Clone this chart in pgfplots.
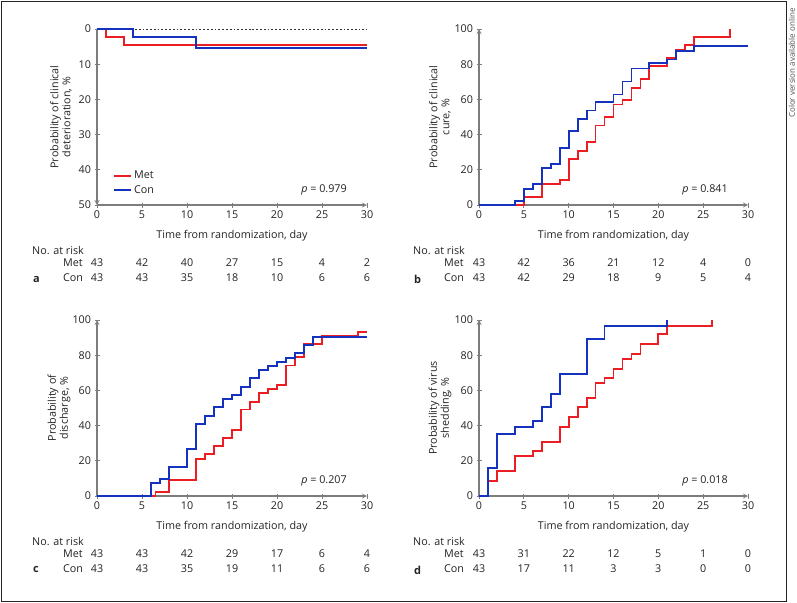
\documentclass[border=0pt]{standalone}
\usepackage{fontspec}
\setmainfont{Open Sans}
\usepackage{pgfplots}
\pgfplotsset{compat=1.18}
\definecolor{kmred}{RGB}{235,30,36}
\definecolor{kmblue}{RGB}{20,50,190}
\definecolor{axgray}{RGB}{125,125,125}
\definecolor{txt}{RGB}{35,35,35}
\pgfplotsset{km/.style={
  scale only axis, width=270bp, height=176bp,
  xmin=0, xmax=30, xtick={0,5,...,30},
  axis line style={-, draw=axgray, line width=1.2bp},
  tick style={draw=axgray, line width=1bp}, tick align=outside, major tick length=5bp,
  tick label style={font=\fontsize{10.8}{12}\selectfont, text=txt},
  /pgf/number format/assume math mode=true,
  clip=false,
  every axis plot/.append style={line width=1.8bp, const plot},
}}
\tikzset{num/.style={font=\fontsize{10.8}{12}\selectfont, text=txt, inner sep=0pt}}
\newcommand\risk[6]{% X0, Ybot, offset, step, met, con
  \foreach \v [count=\i from 0] in {#5} \node[num] at ({#1+#4*\i},{#2+58}) {\v};
  \foreach \v [count=\i from 0] in {#6} \node[num] at ({#1+#4*\i},{#2+73}) {\v};
  \node[num, anchor=west] at ({32+#3},{#2+45}) {No. at risk};
  \node[num, anchor=west] at ({63+#3},{#2+58}) {Met};
  \node[num, anchor=west] at ({63+#3},{#2+73}) {Con};
  \node[num] at ({#1+#4*15/5},{#2+31}) {Time from randomization, day};
}
\begin{document}
\begin{tikzpicture}
\useasboundingbox (0,0) rectangle (797bp,-603bp);
\draw[txt, line width=1bp] (1bp,-1bp) rectangle (786bp,-601bp);
\node[rotate=90, anchor=east, font=\fontsize{8}{9}\selectfont, text=txt!80] at (792bp,-5bp) {Color version available online};

% Panel a
\begin{axis}[km, at={(97bp,-205bp)}, anchor=south west,
  ymin=0, ymax=50, ytick={0,10,...,50}, y dir=reverse,
  axis lines=left,
  legend style={draw=none, fill=none, at={(0.06,0.205)}, anchor=north west,
    font=\fontsize{10.8}{12}\selectfont, text=txt, row sep=1bp, inner sep=0pt},
  legend cell align=left,
  legend image code/.code={\draw[#1] (0bp,0bp) -- (17bp,0bp);}]
\addplot[black!80, dotted, line width=0.8bp, forget plot] coordinates {(0,0) (30,0)};
\addplot[kmred] coordinates {(0,0) (1,2.33) (3,4.65) (30,4.65)};
\addlegendentry{Met}
\addplot[kmblue] coordinates {(0,0) (4,2.33) (11,5.4) (30,5.4)};
\addlegendentry{Con}
\end{axis}

% Panel b
\begin{axis}[km, at={(479bp,-205bp)}, anchor=south west, width=269bp,
  ymin=0, ymax=100, ytick={0,20,...,100}, axis lines=left]
\addplot[kmred] coordinates {(0,0) (5,4.7) (7,11.8) (9,14.0) (10,26.2) (11,30.7) (12,35.7) (13,45.2) (14,49.9) (15,57.1) (16,59.6) (17,66.6) (18,71.7) (19,79.1) (21,83.3) (22,88.4) (23,90.7) (24,95.4) (28,100)};
\addplot[kmblue] coordinates {(0,0) (4,2.3) (5,9.1) (6,11.8) (7,20.9) (8,23.1) (9,32.6) (10,42.1) (11,48.8) (12,53.7) (13,58.3) (15,62.8) (16,70.2) (17,77.6) (19,80.5) (21,82.7) (22,87.7) (24,90.3) (30,90.3)};
\end{axis}

% Panel c
\begin{axis}[km, at={(97bp,-496bp)}, anchor=south west,
  ymin=0, ymax=100, ytick={0,20,...,100}, axis lines=left]
\addplot[kmred] coordinates {(0,0) (6.5,2.4) (8,9.1) (11,21.2) (12,23.7) (13,28.4) (14,32.8) (15,37.5) (16,49.2) (17,53.6) (18,58.3) (19,60.6) (20,63.1) (21,74.2) (22,79.2) (23,86.4) (25,90.9) (29,93.2) (30,93.2)};
\addplot[kmblue] coordinates {(0,0) (6,7.2) (7,9.7) (8,16.7) (10,26.5) (11,40.7) (12,45.5) (13,50.4) (14,54.9) (15,57.4) (16,62.1) (17,66.9) (18,71.6) (19,73.9) (20,76.1) (21,78.4) (22,81.4) (23,86.0) (24,90.5) (30,90.5)};
\end{axis}

% Panel d
\begin{axis}[km, at={(479bp,-496bp)}, anchor=south west, width=269bp,
  ymin=0, ymax=100, ytick={0,20,...,100}, axis lines=left]
\addplot[kmred] coordinates {(0,0) (1,8.7) (2,14.2) (4,22.7) (6,25.6) (7,30.9) (9,39.4) (10,44.9) (11,50.4) (12,55.9) (13,64.0) (14,67.2) (15,72.3) (16,77.8) (17,80.7) (18,86.4) (20,92.0) (21,96.6) (26,100)};
\addplot[kmblue] coordinates {(0,0) (1,15.7) (2,35.2) (4,39.0) (6,42.8) (7,50.4) (8,58.0) (9,69.3) (12,89.0) (14,96.6) (21,100)};
\end{axis}

\begin{scope}[x=1bp, y=-1bp]
\risk{97}{205}{0}{45}{43,42,40,27,15,4,2}{43,43,35,18,10,6,6}
\risk{479}{205}{381}{44.83}{43,42,36,21,12,4,0}{43,42,29,18,9,5,4}
\risk{97}{496}{0}{45}{43,43,42,29,17,6,4}{43,43,35,19,11,6,6}
\risk{479}{496}{381}{44.83}{43,31,22,12,5,1,0}{43,17,11,3,3,0,0}
\node[num, anchor=west, font=\fontsize{11}{12}\selectfont\bfseries] at (33,279) {a};
\node[num, anchor=west, font=\fontsize{11}{12}\selectfont\bfseries] at (414,279) {b};
\node[num, anchor=west, font=\fontsize{11}{12}\selectfont\bfseries] at (33,570) {c};
\node[num, anchor=west, font=\fontsize{11}{12}\selectfont\bfseries] at (414,570) {d};
\node[num, anchor=east] at (347,190) {\textit{p} = 0.979};
\node[num, anchor=east] at (728,190) {\textit{p} = 0.841};
\node[num, anchor=east] at (347,481) {\textit{p} = 0.207};
\node[num, anchor=east] at (728,481) {\textit{p} = 0.018};
\node[num, rotate=90, align=center] at (61,117) {Probability of clinical\\deterioration, \%};
\node[num, rotate=90, align=center] at (440,117) {Probability of clinical\\cure, \%};
\node[num, rotate=90, align=center] at (59,408) {Probability of\\discharge, \%};
\node[num, rotate=90, align=center] at (440,408) {Probability of virus\\shedding, \%};
\end{scope}
\end{tikzpicture}
\end{document}
